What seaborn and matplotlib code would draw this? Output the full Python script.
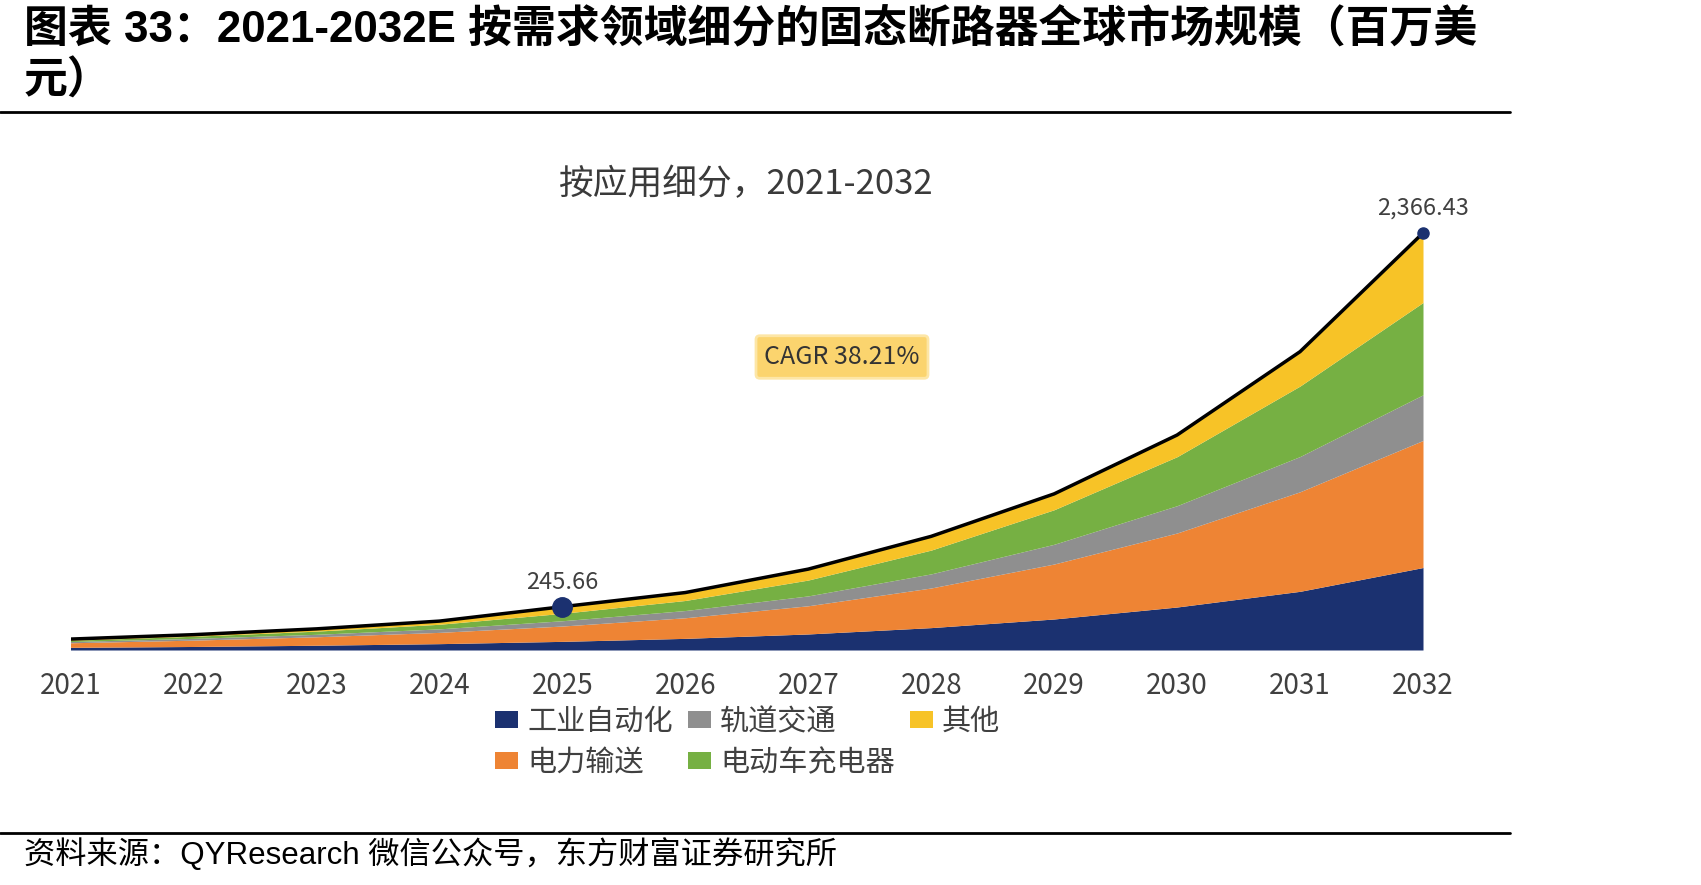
import numpy as np
import matplotlib
matplotlib.use("Agg")
from matplotlib import pyplot as plt
from matplotlib.lines import Line2D
from matplotlib.patches import Patch
import seaborn as sns

# values (million USD)
years = [2021, 2022, 2023, 2024, 2025, 2026, 2027, 2028, 2029, 2030, 2031, 2032]
industrial = [15, 20, 27, 36, 49, 66, 91, 127, 176, 244, 333, 468]
power = [26, 36, 48, 64, 87, 117, 160, 225, 312, 420, 565, 721]
rail = [7, 10, 14, 20, 30, 41, 56, 80, 112, 155, 200, 259]
ev = [7, 12, 18, 26, 42, 57, 90, 135, 196, 278, 400, 524]
other = [7, 9, 13, 18, 37.66, 45, 62, 78, 90, 123, 195, 394.43]
labels = ["工业自动化", "电力输送", "轨道交通", "电动车充电器", "其他"]
colors = ["#1b3170", "#ee8434", "#8f8f8f", "#76b043", "#f7c327"]

total = np.sum([industrial, power, rail, ev, other], axis=0)

sns.set_theme(style="white")
plt.rcParams["font.family"] = ["Liberation Sans", "Noto Sans CJK SC", "DejaVu Sans"]
cjk = ["Noto Sans CJK SC", "DejaVu Sans"]

W, H = 1701, 885
fig = plt.figure(figsize=(W / 100, H / 100), dpi=100)
fig.patch.set_facecolor("white")

ax = fig.add_axes([70.5 / W, 1 - 650 / H, (1423 - 70.5) / W, (650 - 233) / H])
ax.stackplot(years, industrial, power, rail, ev, other, colors=colors, linewidth=0)
sns.lineplot(x=years, y=total, color="black", linewidth=2.5, ax=ax, legend=False)

ax.set_xlim(2021, 2032)
ax.set_ylim(0, total[-1])
for s in ax.spines.values():
    s.set_visible(False)
ax.set_yticks([])
ax.set_xticks(years)
ax.set_xticklabels([str(y) for y in years], family=cjk, fontsize=20, color="#404040")
ax.tick_params(axis="x", length=0, pad=15)
ax.set_facecolor("white")

# highlighted points
i25 = years.index(2025)
ax.plot([2025], [total[i25]], "o", color="#1b3170", markersize=14, clip_on=False, zorder=5)
ax.plot([2032], [total[-1]], "o", color="#1b3170", markersize=8, clip_on=False, zorder=5)
ax.annotate(f"{total[i25]:.2f}", (2025, total[i25]), xytext=(0, 9), textcoords="offset points",
            ha="center", va="bottom", fontsize=17, color="#404040", family=cjk, annotation_clip=False)
ax.annotate(f"{total[-1]:,.2f}", (2032, total[-1]), xytext=(0, 10), textcoords="offset points",
            ha="center", va="bottom", fontsize=17, color="#404040", family=cjk, annotation_clip=False)

# CAGR tag
fig.text(842 / W, 1 - 357 / H, "CAGR 38.21%", ha="center", va="center", fontsize=18,
         color="#333333", family=cjk,
         bbox=dict(boxstyle="round,pad=0.33,rounding_size=0.15", facecolor="#fbd46e", edgecolor="#fde6a6", linewidth=2))

# chart subtitle
fig.text(746 / W, 1 - 185 / H, "按应用细分，2021-2032", ha="center", va="center", fontsize=25,
         color="#3a3a3a", family=cjk)

# legend
handles = [Patch(facecolor=c, edgecolor="none") for c in colors]
fig.legend(handles, labels, ncol=3,
           loc="upper left", bbox_to_anchor=(495 / W, 1 - 707 / H), frameon=False,
           prop={"family": cjk, "size": 21}, labelcolor="#404040",
           handlelength=0.8, handleheight=0.5, handletextpad=0.3,
           columnspacing=0.52, labelspacing=0.38, borderpad=0, borderaxespad=0)

# page title and source
fig.text(24 / W, 1 - 30 / H, "图表 33：2021-2032E 按需求领域细分的固态断路器全球市场规模（百万美",
         ha="left", va="center", fontsize=31.6, fontweight="bold", color="black")
fig.text(24 / W, 1 - 82 / H, "元）", ha="left", va="center", fontsize=31.6, fontweight="bold", color="black")
fig.add_artist(Line2D([0, 1510 / W], [1 - 112 / H] * 2, color="black", linewidth=2))
fig.add_artist(Line2D([0, 1510 / W], [1 - 833 / H] * 2, color="black", linewidth=2))
fig.text(24 / W, 1 - 855 / H, "资料来源：QYResearch 微信公众号，东方财富证券研究所",
         ha="left", va="center", fontsize=22.5, color="black")

fig.savefig("out.png", dpi=100, facecolor="white")
